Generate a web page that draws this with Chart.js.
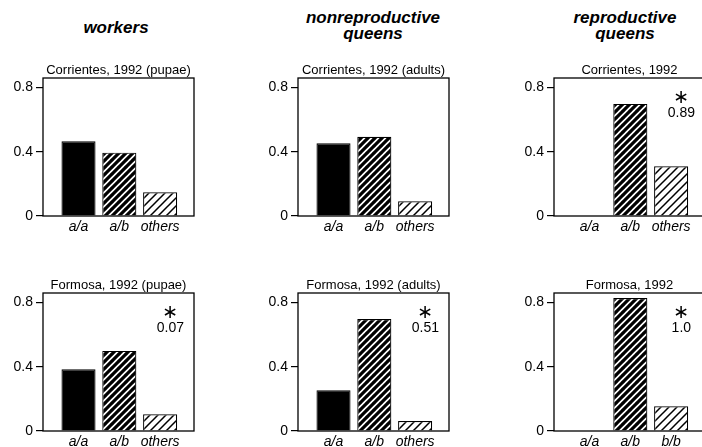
<!DOCTYPE html>
<html>
<head>
<meta charset="utf-8">
<script src="https://cdn.jsdelivr.net/npm/chart.js@4"></script>
<style>
  html, body { margin: 0; padding: 0; background: #fff; }
  body { width: 702px; height: 447px; position: relative; overflow: hidden; }
  .head {
    position: absolute; width: 200px; text-align: center;
    font: italic bold 17px "Liberation Sans", Arial, sans-serif;
    line-height: 16px; color: #000;
  }
  canvas { position: absolute; }
</style>
</head>
<body>
<div class="head" style="left:16px; top:20px;">workers</div>
<div class="head" style="left:273px; top:10px;">nonreproductive<br>queens</div>
<div class="head" style="left:525px; top:10px;">reproductive<br>queens</div>

<canvas id="p0" width="197" height="178" style="left:0px; top:62px;"></canvas>
<canvas id="p1" width="197" height="178" style="left:255px; top:62px;"></canvas>
<canvas id="p2" width="197" height="178" style="left:511px; top:62px;"></canvas>
<canvas id="p3" width="197" height="178" style="left:0px; top:277px;"></canvas>
<canvas id="p4" width="197" height="178" style="left:255px; top:277px;"></canvas>
<canvas id="p5" width="197" height="178" style="left:511px; top:277px;"></canvas>

<script>
// genotype categories
const genotypesOthers = ['a/a', 'a/b', 'others'];
const genotypesBB = ['a/a', 'a/b', 'b/b'];

// panel titles
const subtitles = [
    'Corrientes, 1992 (pupae)', 'Corrientes, 1992 (adults)', 'Corrientes, 1992',
    'Formosa, 1992 (pupae)', 'Formosa, 1992 (adults)', 'Formosa, 1992'
];

// genotype frequencies
const workersCorrientes = [0.465, 0.394, 0.147];
const nonreproCorrientes = [0.452, 0.493, 0.091];
const reproCorrientes = [0, 0.697, 0.309];
const workersFormosa = [0.384, 0.498, 0.104];
const nonreproFormosa = [0.254, 0.696, 0.062];
const reproFormosa = [0, 0.827, 0.154];

// significance values shown under the asterisk
const pValues = [null, null, '0.89', '0.07', '0.51', '1.0'];

const yTicks = [0, 0.4, 0.8];
const yTickLabels = ['0', '0.4', '0.8'];

const panels = [
    { values: workersCorrientes, cats: genotypesOthers },
    { values: nonreproCorrientes, cats: genotypesOthers },
    { values: reproCorrientes, cats: genotypesOthers },
    { values: workersFormosa, cats: genotypesOthers },
    { values: nonreproFormosa, cats: genotypesOthers },
    { values: reproFormosa, cats: genotypesBB }
];

const FONT = '"Liberation Sans", Arial, sans-serif';

function hatch(size, lineWidth) {
    const c = document.createElement('canvas');
    c.width = size; c.height = size;
    const g = c.getContext('2d');
    g.fillStyle = '#fff';
    g.fillRect(0, 0, size, size);
    g.strokeStyle = '#000';
    g.lineWidth = lineWidth;
    g.beginPath();
    for (let k = -1; k <= 1; k++) {
        g.moveTo(k * size - 1, size + 1);
        g.lineTo(k * size + size + 1, -1);
    }
    g.stroke();
    return g.createPattern(c, 'repeat');
}

const densePattern = hatch(7, 3.2);
const lightPattern = hatch(8, 1.5);

// frame around plot area + asterisk/p value
const framePlugin = {
    id: 'frame',
    afterDraw(chart, args, opts) {
        const { ctx, chartArea: a } = chart;
        ctx.save();
        ctx.strokeStyle = '#000';
        ctx.lineWidth = 1.3;
        ctx.strokeRect(a.left, a.top, a.right - a.left, a.bottom - a.top);
        if (opts.text) {
            const x = chart.scales.x.getPixelForValue(2.25);
            ctx.fillStyle = '#000';
            ctx.textAlign = 'center';
            ctx.textBaseline = 'middle';
            ctx.font = '19px "DejaVu Sans", sans-serif';
            ctx.fillText('\u2217', x, chart.scales.y.getPixelForValue(0.734));
            ctx.font = '14px ' + FONT;
            ctx.fillText(opts.text, x, chart.scales.y.getPixelForValue(0.641));
        }
        ctx.restore();
    }
};

panels.forEach((p, i) => {
    const ctx = document.getElementById('p' + i).getContext('2d');
    new Chart(ctx, {
        type: 'bar',
        data: {
            datasets: [{
                data: p.values.map((v, k) => ({ x: k, y: v })),
                backgroundColor: ['#000', densePattern, lightPattern],
                borderColor: '#000',
                borderWidth: 1.2,
                barPercentage: 0.835,
                categoryPercentage: 1
            }]
        },
        options: {
            responsive: false,
            animation: false,
            layout: { padding: { top: 0, right: 3, bottom: 0, left: 0 } },
            plugins: {
                legend: { display: false },
                tooltip: { enabled: false },
                title: {
                    display: true,
                    text: subtitles[i],
                    fullSize: false,
                    color: '#000',
                    font: { family: FONT, size: 13, weight: 'normal', lineHeight: '16px' },
                    padding: { top: 0, bottom: 0 }
                },
                frame: { text: pValues[i] }
            },
            scales: {
                x: {
                    type: 'linear',
                    offset: false,
                    min: -0.87,
                    max: 2.83,
                    afterBuildTicks: s => { s.ticks = p.cats.map((c, k) => ({ value: k })); },
                    afterFit: s => { s.height = 24; },
                    grid: { display: false, drawTicks: false, offset: false },
                    border: { display: false },
                    ticks: {
                        color: '#000',
                        padding: 3,
                        maxRotation: 0,
                        font: { family: FONT, size: 14, style: 'italic' },
                        callback: v => p.cats[v]
                    }
                },
                y: {
                    min: 0,
                    max: 0.858,
                    afterBuildTicks: s => { s.ticks = yTicks.map(v => ({ value: v })); },
                    afterFit: s => { s.width = 43; },
                    grid: {
                        drawOnChartArea: false,
                        drawTicks: true,
                        tickLength: 7,
                        color: '#000',
                        lineWidth: 1.2
                    },
                    border: { display: false },
                    ticks: {
                        color: '#000',
                        padding: 3,
                        font: { family: FONT, size: 14 },
                        callback: v => yTickLabels[yTicks.indexOf(v)]
                    }
                }
            }
        },
        plugins: [framePlugin]
    });
});
</script>
</body>
</html>
